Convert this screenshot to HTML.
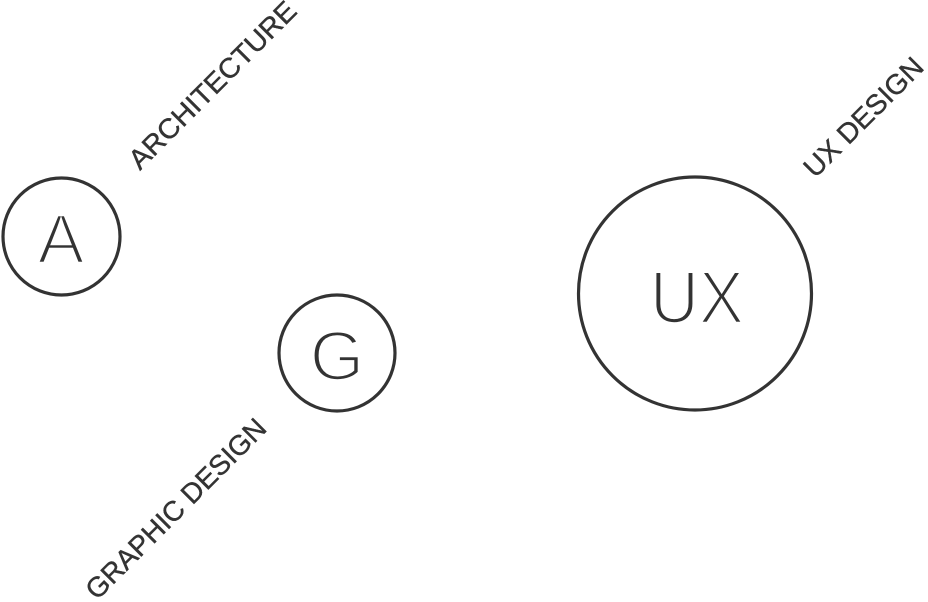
<!DOCTYPE html>
<html><head><meta charset="utf-8"><style>
html,body{margin:0;padding:0;background:#fff;}
svg{display:block}
text{font-family:"Liberation Sans",sans-serif;fill:#333;}
.big{fill:#333;stroke:#fff;stroke-width:2.6px;}
.lab{stroke:#333;stroke-width:0.4px;}
</style></head><body>
<svg width="928" height="602" viewBox="0 0 928 602" xmlns="http://www.w3.org/2000/svg">
<circle cx="61.5" cy="236.5" r="58.5" fill="none" stroke="#333" stroke-width="3.2"/>
<circle cx="337" cy="353" r="58" fill="none" stroke="#333" stroke-width="3.2"/>
<circle cx="695" cy="293.5" r="116.5" fill="none" stroke="#333" stroke-width="3.2"/>
<text class="big" x="61" y="263" font-size="70" text-anchor="middle">A</text>
<text class="big" x="337" y="380" font-size="70" text-anchor="middle">G</text>
<text class="big" x="697" y="323" font-size="74" text-anchor="middle" textLength="94" lengthAdjust="spacingAndGlyphs">UX</text>
<text class="lab" x="140" y="171" font-size="28" textLength="224" lengthAdjust="spacingAndGlyphs" transform="rotate(-45 140 171)">ARCHITECTURE</text>
<text class="lab" x="815" y="179" font-size="28" textLength="156" lengthAdjust="spacingAndGlyphs" transform="rotate(-45 815 179)">UX DESIGN</text>
<text class="lab" x="97" y="601" font-size="28" textLength="242" lengthAdjust="spacingAndGlyphs" transform="rotate(-45 97 601)">GRAPHIC DESIGN</text>
</svg>
</body></html>
